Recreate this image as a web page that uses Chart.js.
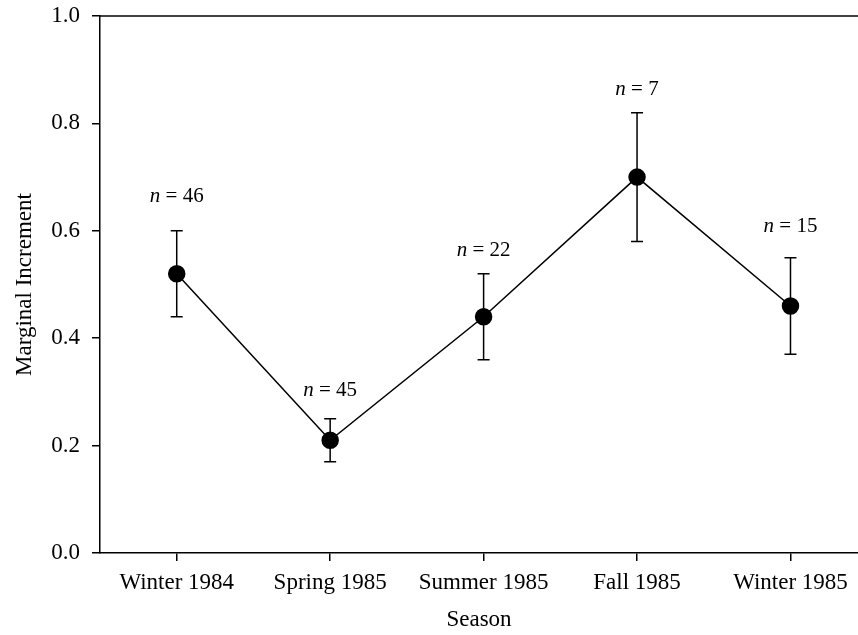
<!DOCTYPE html>
<html>
<head>
<meta charset="utf-8">
<script src="https://cdn.jsdelivr.net/npm/chart.js@4"></script>
<style>
  html, body { margin: 0; padding: 0; background: #fff; }
  #wrap { width: 858px; height: 635px; }
</style>
</head>
<body>
<div id="wrap"><canvas id="chart" width="858" height="635"></canvas></div>
<script>
const seasons = ["Winter 1984", "Spring 1985", "Summer 1985", "Fall 1985", "Winter 1985"];
const meanIncrement = [0.52, 0.21, 0.44, 0.70, 0.46];
const upperBar = [0.60, 0.25, 0.52, 0.82, 0.55];
const lowerBar = [0.44, 0.17, 0.36, 0.58, 0.37];
const sampleSizes = [46, 45, 22, 7, 15];
const sampleLabelY = [0.654, 0.292, 0.553, 0.853, 0.598];
const yTicks = [0, 0.2, 0.4, 0.6, 0.8, 1.0];

const serif = "'Liberation Serif', 'Times New Roman', serif";

// error bars under the points, n labels on top
const errorBars = {
  id: "errorBars",
  beforeDatasetsDraw(chart) {
    const ctx = chart.ctx;
    const xs = chart.scales.x, ys = chart.scales.y;
    ctx.save();
    ctx.strokeStyle = "#000";
    ctx.lineWidth = 1.5;
    seasons.forEach((s, i) => {
      const x = xs.getPixelForValue(i);
      const top = ys.getPixelForValue(upperBar[i]);
      const bot = ys.getPixelForValue(lowerBar[i]);
      ctx.beginPath();
      ctx.moveTo(x, top); ctx.lineTo(x, bot);
      ctx.moveTo(x - 6, top); ctx.lineTo(x + 6, top);
      ctx.moveTo(x - 6, bot); ctx.lineTo(x + 6, bot);
      ctx.stroke();
    });
    ctx.restore();
  },
  afterDraw(chart) {
    const ctx = chart.ctx;
    const xs = chart.scales.x, ys = chart.scales.y;
    const area = chart.chartArea;
    ctx.save();
    // top frame line
    ctx.strokeStyle = "#000";
    ctx.lineWidth = 1.5;
    ctx.beginPath();
    ctx.moveTo(area.left, area.top);
    ctx.lineTo(area.right, area.top);
    ctx.stroke();

    ctx.fillStyle = "#000";
    ctx.textBaseline = "alphabetic";
    sampleSizes.forEach((n, i) => {
      const x = xs.getPixelForValue(i);
      const y = ys.getPixelForValue(sampleLabelY[i]);
      const rest = " = " + n;
      ctx.font = "italic 21px " + serif;
      const w1 = ctx.measureText("n").width;
      ctx.font = "21px " + serif;
      const w2 = ctx.measureText(rest).width;
      const x0 = x - (w1 + w2) / 2;
      ctx.font = "italic 21px " + serif;
      ctx.textAlign = "left";
      ctx.fillText("n", x0, y);
      ctx.font = "21px " + serif;
      ctx.fillText(rest, x0 + w1, y);
    });
    ctx.restore();
  }
};

new Chart(document.getElementById("chart"), {
  type: "line",
  data: {
    datasets: [{
      data: meanIncrement.map((v, i) => ({ x: i, y: v })),
      borderColor: "#000",
      borderWidth: 1.5,
      pointRadius: 8,
      pointHoverRadius: 8,
      pointBackgroundColor: "#000",
      pointBorderColor: "#000",
      tension: 0,
      clip: false
    }]
  },
  options: {
    responsive: false,
    animation: false,
    events: [],
    layout: { autoPadding: false, padding: { top: 16, right: 0, left: 0, bottom: 0 } },
    plugins: { legend: { display: false }, tooltip: { enabled: false } },
    scales: {
      x: {
        type: "linear",
        min: -0.5,
        max: 4.44,
        afterBuildTicks: (axis) => { axis.ticks = seasons.map((s, i) => ({ value: i })); },
        afterFit: (axis) => {
          axis.height = 82;
          axis.paddingLeft = 0;
          axis.paddingRight = 0;
        },
        ticks: {
          callback: (v) => seasons[v],
          color: "#000",
          font: { family: serif, size: 23 },
          padding: 8,
          maxRotation: 0,
          autoSkip: false
        },
        grid: { drawOnChartArea: false, drawTicks: true, tickLength: 8, color: "#000", lineWidth: 1.5 },
        border: { display: true, color: "#000", width: 1.5 },
        title: {
          display: true,
          text: "Season",
          color: "#000",
          font: { family: serif, size: 23 },
          padding: { top: 0, bottom: 1 }
        }
      },
      y: {
        min: 0,
        max: 1,
        afterBuildTicks: (axis) => { axis.ticks = yTicks.map(v => ({ value: v })); },
        afterFit: (axis) => {
          axis.width = 100;
          axis.paddingTop = 0;
          axis.paddingBottom = 0;
        },
        ticks: {
          callback: (v) => v.toFixed(1),
          color: "#000",
          font: { family: serif, size: 23 },
          padding: 12
        },
        grid: { drawOnChartArea: false, drawTicks: true, tickLength: 8, color: "#000", lineWidth: 1.5 },
        border: { display: true, color: "#000", width: 1.5 },
        title: {
          display: true,
          text: "Marginal Increment",
          color: "#000",
          font: { family: serif, size: 23 },
          padding: { top: 11, bottom: 0 }
        }
      }
    }
  },
  plugins: [errorBars]
});
</script>
</body>
</html>
